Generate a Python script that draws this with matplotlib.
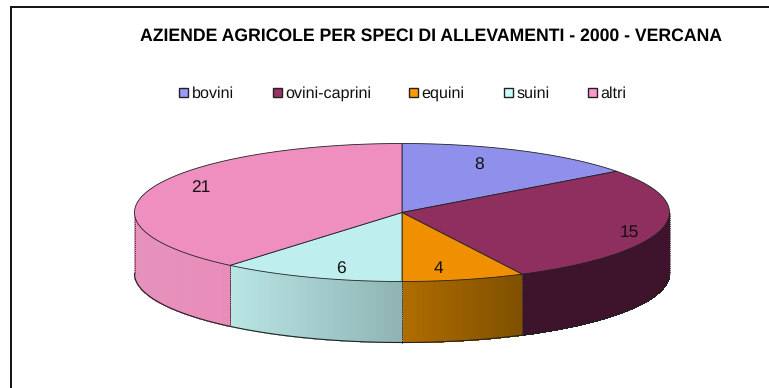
import numpy as np
import matplotlib
matplotlib.use('Agg')
import matplotlib.pyplot as plt
from matplotlib.colors import to_rgb
from matplotlib.patches import Rectangle

plt.rcParams['font.family'] = ['Liberation Sans', 'DejaVu Sans']
plt.rcParams['text.hinting'] = 'no_hinting'

title = 'AZIENDE AGRICOLE PER SPECI DI ALLEVAMENTI - 2000 - VERCANA'
labels = ['bovini', 'ovini-caprini', 'equini', 'suini', 'altri']
values = [8, 15, 4, 6, 21]

# colours
legend_colors = ['#9999ff', '#993366', '#ff9900', '#ccffff', '#ff99cc']
top_colors = ['#8f8fec', '#8f2f5f', '#f09000', '#bfeeee', '#ef8fbf']
side_left = ['#3d142b', '#3d142b', '#b06c00', '#b9e5e5', '#e592bd']
side_right = ['#3d142b', '#3d142b', '#7f5000', '#8fb3b3', '#ea8cba']

# layout, in pixels of the picture
cx, cy, rx, ry, depth = 402, 212.5, 267.5, 69, 61
legend_x = [179, 273, 409, 504, 588]
label_xy = [(479, 165), (629, 232), (438.5, 269), (341, 269), (201, 188)]

fig = plt.figure(figsize=(7.69, 3.88), dpi=100)
ax = fig.add_axes([0, 0, 1, 1])
ax.set_xlim(0, 769)
ax.set_ylim(388, 0)
ax.axis('off')

# chart frame: only the left and top edges are in the crop
ax.plot([11, 11, 769], [388, 7, 7], color='#111111', lw=1.4, solid_joinstyle='miter')


def rim(t):
    # t in radians, clockwise from the top of the pie
    return cx + rx * np.sin(t), cy - ry * np.cos(t)


edges = np.cumsum([0] + values) / sum(values) * 2 * np.pi

# sides, only the front half of the rim shows
for i in range(len(values)):
    a = max(edges[i], np.pi / 2)
    b = min(edges[i + 1], 3 * np.pi / 2)
    if a >= b:
        continue
    t = np.linspace(a, b, 80)
    x, y = rim(t)
    xl, xr = x.min(), x.max()
    c0, c1 = np.array(to_rgb(side_left[i])), np.array(to_rgb(side_right[i]))
    for j in range(len(t) - 1):
        f = ((x[j] + x[j + 1]) / 2 - xl) / (xr - xl)
        col = c0 + (c1 - c0) * f
        ax.fill([x[j], x[j + 1], x[j + 1], x[j]],
                [y[j], y[j + 1], y[j + 1] + depth, y[j] + depth],
                facecolor=col, edgecolor=col, lw=0.5, antialiased=False, zorder=2)
    ax.plot(x, y + depth, color='#222222', lw=0.8, zorder=3)
    ax.plot([x[0], x[0]], [y[0], y[0] + depth], color='#333333', lw=0.6, ls=(0, (1.5, 1)), zorder=3)
    ax.plot([x[-1], x[-1]], [y[-1], y[-1] + depth], color='#333333', lw=0.6, ls=(0, (1.5, 1)), zorder=3)

# top face
for i in range(len(values)):
    t = np.linspace(edges[i], edges[i + 1], 160)
    x, y = rim(t)
    ax.fill(np.r_[cx, x], np.r_[cy, y], facecolor=top_colors[i],
            edgecolor='#222222', lw=0.6, zorder=4)

# value labels
for v, (lx, ly) in zip(values, label_xy):
    ax.text(lx, ly, str(v), fontsize=12.5, ha='center', va='center', color='#111111', zorder=5)

ax.text(431, 36.5, title, fontsize=12.7, fontweight='bold', ha='center', va='center', color='black')

# legend
for name, col, lx in zip(labels, legend_colors, legend_x):
    ax.add_patch(Rectangle((lx, 88), 9, 9, facecolor=col, edgecolor='#222222', lw=1))
    ax.text(lx + 12.5, 98, name, fontsize=11.6, ha='left', va='baseline', color='#111111')

fig.savefig('out.png', dpi=100)
